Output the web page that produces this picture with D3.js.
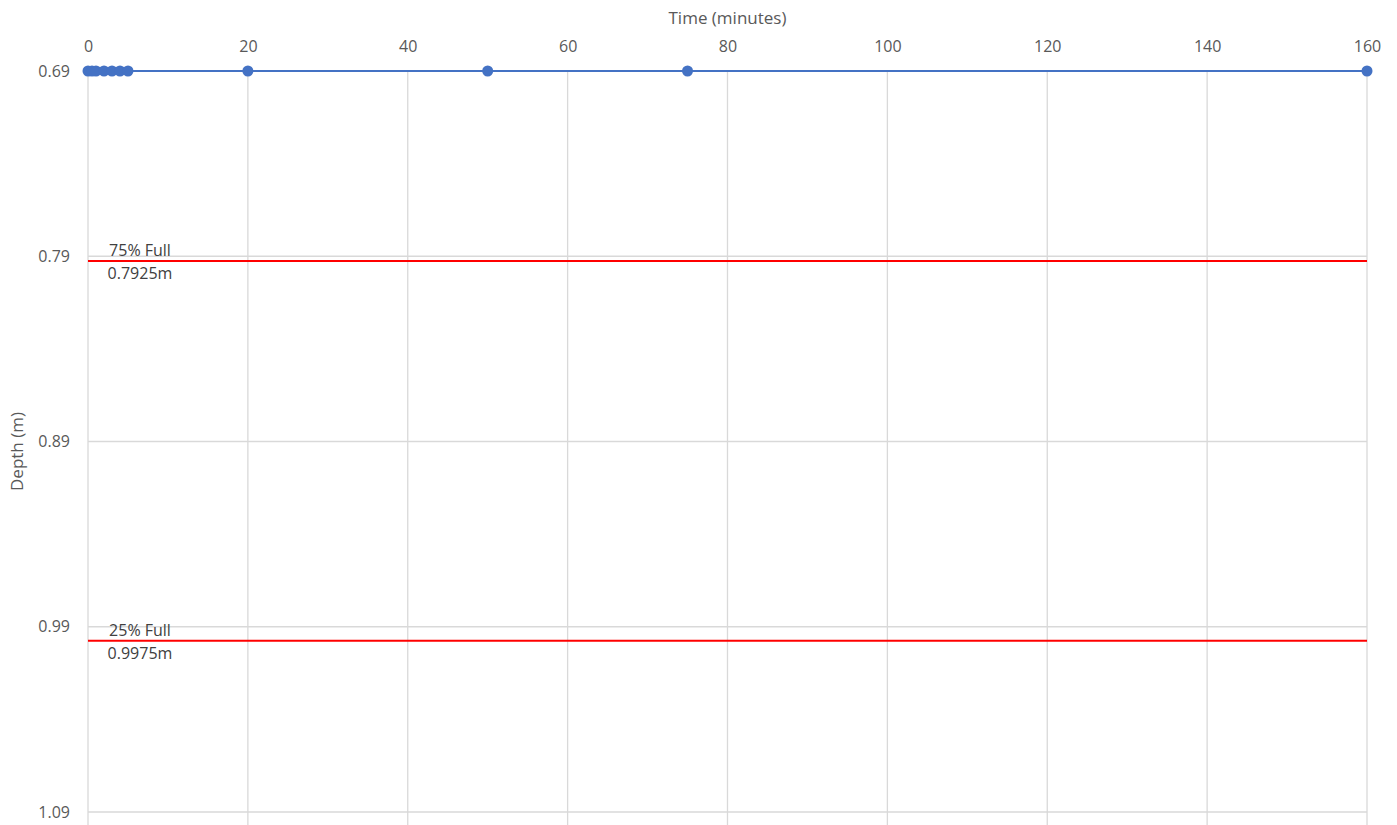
<!DOCTYPE html>
<html>
<head>
<meta charset="utf-8">
<script src="https://cdn.jsdelivr.net/npm/d3@7"></script>
<style>
  body { margin: 0; background: #fff; }
  text { font-family: "Open Sans", "Liberation Sans", sans-serif; }
</style>
</head>
<body>
<svg id="chart" width="1397" height="825"></svg>
<script>
// data
var times = [0, 0.5, 1, 2, 3, 4, 5, 20, 50, 75, 160];
var depths = [0.69, 0.69, 0.69, 0.69, 0.69, 0.69, 0.69, 0.69, 0.69, 0.69, 0.69];
var xTicks = [0, 20, 40, 60, 80, 100, 120, 140, 160];
var yTicks = [0.69, 0.79, 0.89, 0.99, 1.09];
var levelNames = ["75% Full", "25% Full"];
var levelValues = [0.7925, 0.9975];

var margin = { top: 71, left: 88, right: 30, bottom: 13 };
var width = 1397, height = 825;

var svg = d3.select("#chart");

var x = d3.scaleLinear().domain([0, 160]).range([margin.left, 1367]);
var y = d3.scaleLinear().domain([0.69, 1.09]).range([margin.top, 812]);

var gridColor = "#d9d9d9";
var textColor = "#595959";

// vertical grid
svg.append("g")
  .selectAll("line")
  .data(xTicks)
  .enter()
  .append("line")
  .attr("x1", function (d) { return x(d); })
  .attr("x2", function (d) { return x(d); })
  .attr("y1", y(0.69))
  .attr("y2", height)
  .attr("stroke", gridColor)
  .attr("stroke-width", 1.3);

// horizontal grid
svg.append("g")
  .selectAll("line")
  .data(yTicks)
  .enter()
  .append("line")
  .attr("x1", x(0))
  .attr("x2", x(160))
  .attr("y1", function (d) { return y(d); })
  .attr("y2", function (d) { return y(d); })
  .attr("stroke", gridColor)
  .attr("stroke-width", 1.3);

// x axis on top
var xAxis = svg.append("g")
  .attr("transform", "translate(0," + (margin.top - 15) + ")")
  .call(d3.axisTop(x).tickValues(xTicks).tickSize(0).tickPadding(4));
xAxis.select(".domain").remove();
xAxis.selectAll("text")
  .attr("fill", textColor)
  .style("font-size", "16px")
  .attr("dy", "0");

// y axis
var yAxis = svg.append("g")
  .attr("transform", "translate(" + (margin.left - 18) + ",0)")
  .call(d3.axisLeft(y).tickValues(yTicks).tickSize(0).tickPadding(0).tickFormat(d3.format(".2f")));
yAxis.select(".domain").remove();
yAxis.selectAll("text")
  .attr("fill", textColor)
  .style("font-size", "16px");

// axis titles
svg.append("text")
  .attr("x", (x(0) + x(160)) / 2)
  .attr("y", 24)
  .attr("text-anchor", "middle")
  .attr("fill", textColor)
  .style("font-size", "17px")
  .text("Time (minutes)");

svg.append("text")
  .attr("transform", "translate(23," + (y(0.89) + 10) + ") rotate(-90)")
  .attr("text-anchor", "middle")
  .attr("fill", textColor)
  .style("font-size", "17px")
  .text("Depth (m)");

// level lines
var levels = svg.append("g")
  .selectAll("g")
  .data(levelValues)
  .enter()
  .append("g");

levels.append("line")
  .attr("x1", x(0))
  .attr("x2", x(160))
  .attr("y1", function (d) { return y(d); })
  .attr("y2", function (d) { return y(d); })
  .attr("stroke", "#ff0000")
  .attr("stroke-width", 2);

levels.append("text")
  .attr("x", x(0) + 52)
  .attr("y", function (d) { return y(d) - 5; })
  .attr("text-anchor", "middle")
  .attr("fill", "#404040")
  .style("font-size", "16px")
  .text(function (d, i) { return levelNames[i]; });

levels.append("text")
  .attr("x", x(0) + 52)
  .attr("y", function (d) { return y(d) + 18; })
  .attr("text-anchor", "middle")
  .attr("fill", "#404040")
  .style("font-size", "16px")
  .text(function (d) { return d + "m"; });

// series
var pts = times.map(function (t, i) { return [t, depths[i]]; });

svg.append("path")
  .datum(pts)
  .attr("fill", "none")
  .attr("stroke", "#4472c4")
  .attr("stroke-width", 2.2)
  .attr("d", d3.line()
    .x(function (d) { return x(d[0]); })
    .y(function (d) { return y(d[1]); }));

svg.append("g")
  .selectAll("circle")
  .data(pts)
  .enter()
  .append("circle")
  .attr("cx", function (d) { return x(d[0]); })
  .attr("cy", function (d) { return y(d[1]); })
  .attr("r", 5.5)
  .attr("fill", "#4472c4");
</script>
</body>
</html>
